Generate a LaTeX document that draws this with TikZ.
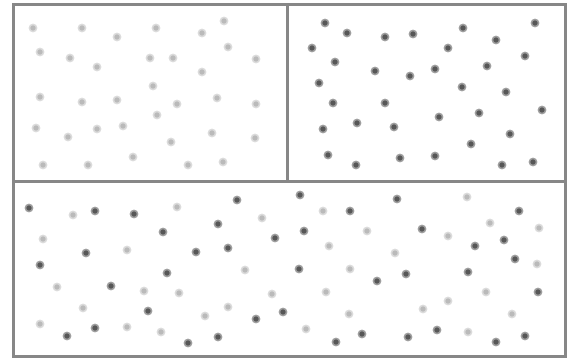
\documentclass[tikz,border=0pt]{standalone}
\begin{document}
\begin{tikzpicture}[x=1pt,y=-1pt,
  framebox/.style={draw=black!47,line width=3pt},
  lightdot/.style={fill=black!27,draw=black!14,line width=1.5pt},
  darkdot/.style={fill=black!66,draw=black!38,line width=1.5pt}]
\useasboundingbox (0,0) rectangle (568,362);
\fill[white] (0,0) rectangle (568,362);
% light dots, top-left
\foreach \x/\y in {33/28,82/28,117/37,156/28,202/33,224/21,40/52,70/58,97/67,150/58,173/58,228/47,202/72,256/59,153/86,40/97,82/102,117/100,177/104,217/98,256/104,157/115,36/128,68/137,97/129,123/126,171/142,212/133,255/138,43/165,88/165,133/157,188/165,223/162}
  \path[lightdot] (\x,\y) circle (3.6);
% dark dots, top-right
\foreach \x/\y in {325/23,347/33,385/37,413/34,463/28,535/23,312/48,448/48,496/40,525/56,335/62,375/71,410/76,435/69,487/66,319/83,462/87,506/92,333/103,385/103,439/117,479/113,542/110,323/129,357/123,394/127,510/134,471/144,328/155,356/165,400/158,435/156,502/165,533/162}
  \path[darkdot] (\x,\y) circle (3.6);
% bottom: light dots
\foreach \x/\y in {73/215,177/207,262/218,43/239,127/250,245/270,57/287,144/291,179/293,272/294,83/308,228/307,205/316,40/324,127/327,161/332,467/197,323/211,490/223,539/228,367/231,448/236,329/246,395/253,537/264,350/269,326/292,486/292,448/301,423/309,349/314,512/314,306/329,468/332}
  \path[lightdot] (\x,\y) circle (3.6);
% bottom: dark dots
\foreach \x/\y in {29/208,95/211,134/214,237/200,218/224,163/232,275/238,86/253,196/252,228/248,40/265,167/273,111/286,148/311,256/319,283/312,67/336,95/328,188/343,218/337,300/195,397/199,350/211,519/211,304/231,422/229,504/240,475/246,515/259,299/269,406/274,377/281,468/272,538/292,362/334,336/342,408/337,437/330,496/342,525/336}
  \path[darkdot] (\x,\y) circle (3.6);
% frames
\coordinate (tl) at (13.5,4.5);
\coordinate (br) at (565,356.5);
\draw[framebox] (tl) rectangle (br);
\draw[framebox] (13.5,181) -- (565,181);
\draw[framebox] (287.5,4.5) -- (287.5,181);
\end{tikzpicture}
\end{document}
